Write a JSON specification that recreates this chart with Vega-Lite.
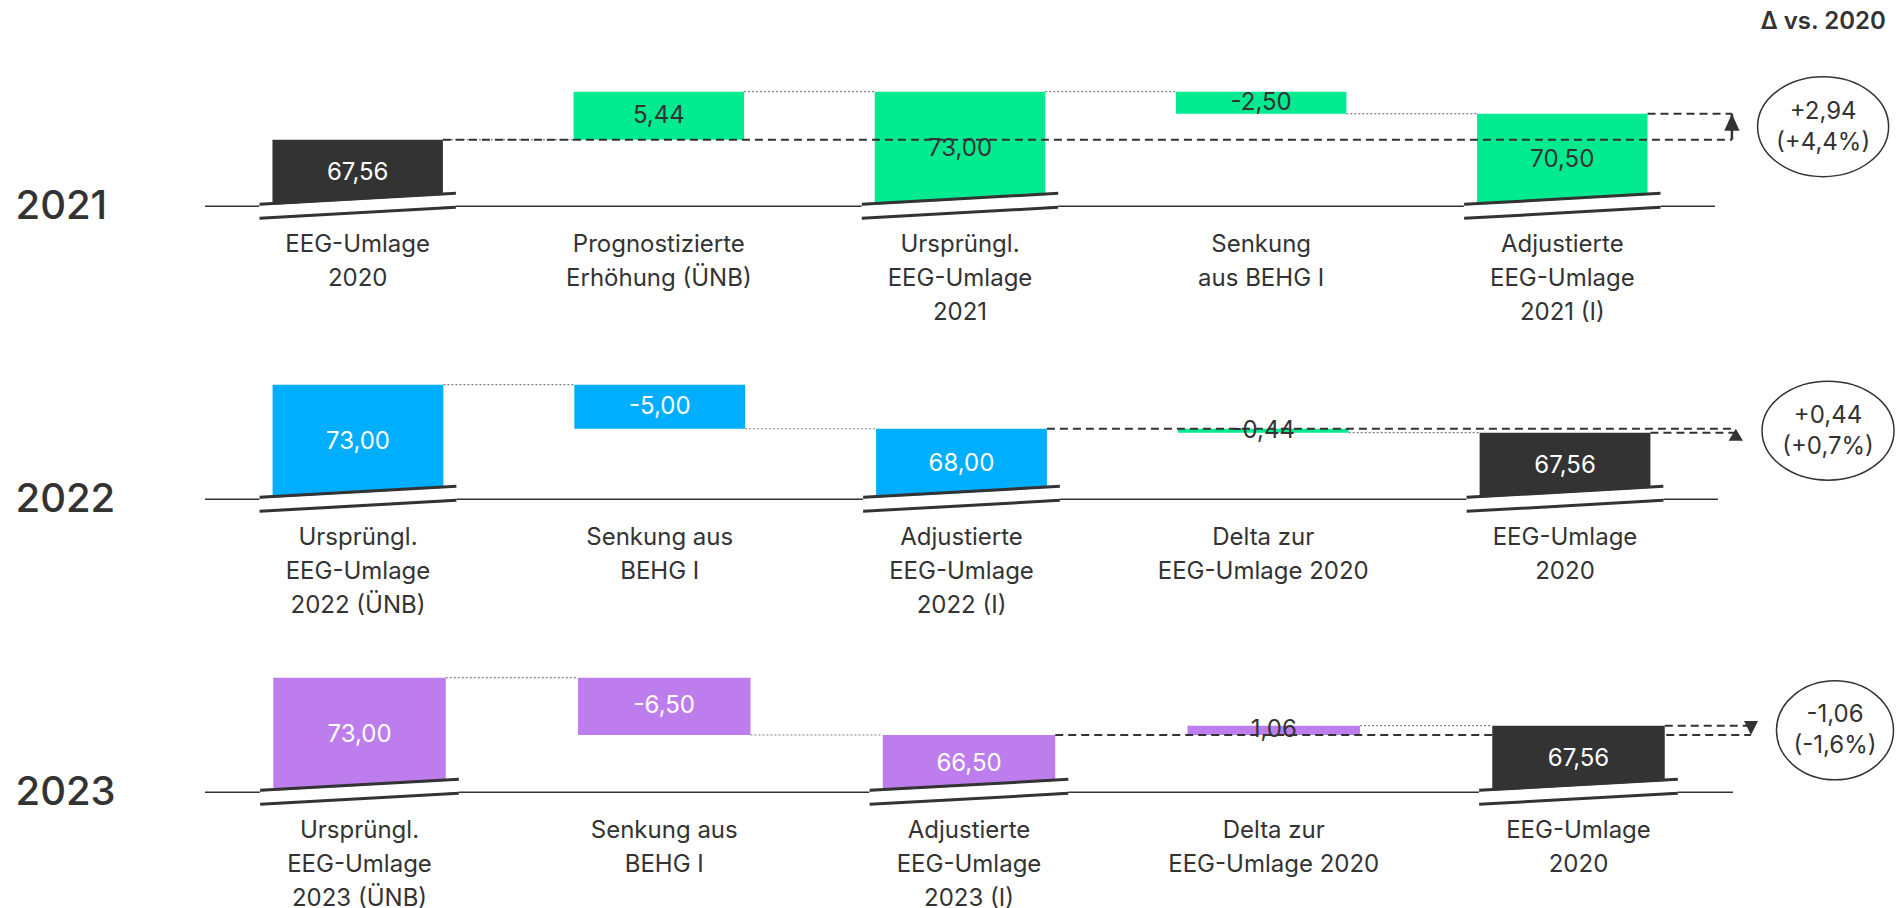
{
  "$schema": "https://vega.github.io/schema/vega-lite/v6.json",
  "padding": {"left": 15, "top": 9, "right": 5, "bottom": 3},
  "bounds": "flush",
  "spacing": 143,
  "resolve": {"scale": {"x": "independent", "y": "independent"}},
  "config": {"view": {"stroke": null}, "font": "Inter", "text": {"font": "Inter"}},
  "datasets": {
    "bars2021": [
      {"cat": "EEG-Umlage|2020", "start": 60, "end": 67.56, "kind": "total", "series": "base", "label": "67,56", "tc": "light"},
      {"cat": "Prognostizierte|Erhöhung (ÜNB)", "start": 67.56, "end": 73, "kind": "delta", "series": "green", "label": "5,44", "tc": "dark"},
      {"cat": "Ursprüngl.|EEG-Umlage|2021", "start": 60, "end": 73, "kind": "total", "series": "green", "label": "73,00", "tc": "dark"},
      {"cat": "Senkung|aus BEHG I", "start": 70.5, "end": 73, "kind": "delta", "series": "green", "label": "-2,50", "tc": "dark"},
      {"cat": "Adjustierte|EEG-Umlage|2021 (I)", "start": 60, "end": 70.5, "kind": "total", "series": "green", "label": "70,50", "tc": "dark"}
    ],
    "conn2021": [
      {"a": "EEG-Umlage|2020", "b": "Prognostizierte|Erhöhung (ÜNB)", "v": 67.56},
      {"a": "Prognostizierte|Erhöhung (ÜNB)", "b": "Ursprüngl.|EEG-Umlage|2021", "v": 73},
      {"a": "Ursprüngl.|EEG-Umlage|2021", "b": "Senkung|aus BEHG I", "v": 73},
      {"a": "Senkung|aus BEHG I", "b": "Adjustierte|EEG-Umlage|2021 (I)", "v": 70.5}
    ],
    "dash2021": [
      {"a": "EEG-Umlage|2020", "b": "Adjustierte|EEG-Umlage|2021 (I)", "v": 67.56},
      {"a": "Adjustierte|EEG-Umlage|2021 (I)", "b": "Adjustierte|EEG-Umlage|2021 (I)", "v": 70.5}
    ],
    "ann2021": [
      {"a": "Adjustierte|EEG-Umlage|2021 (I)", "from": 67.56, "to": 70.5, "txt": "+2,94|(+4,4%)"}
    ],
    "bars2022": [
      {"cat": "Ursprüngl.|EEG-Umlage|2022 (ÜNB)", "start": 60, "end": 73, "kind": "total", "series": "blue", "label": "73,00", "tc": "light"},
      {"cat": "Senkung aus|BEHG I", "start": 68, "end": 73, "kind": "delta", "series": "blue", "label": "-5,00", "tc": "light"},
      {"cat": "Adjustierte|EEG-Umlage|2022 (I)", "start": 60, "end": 68, "kind": "total", "series": "blue", "label": "68,00", "tc": "light"},
      {"cat": "Delta zur|EEG-Umlage 2020", "start": 67.56, "end": 68, "kind": "delta", "series": "green", "label": "-0,44", "tc": "dark"},
      {"cat": "EEG-Umlage|2020", "start": 60, "end": 67.56, "kind": "total", "series": "base", "label": "67,56", "tc": "light"}
    ],
    "conn2022": [
      {"a": "Ursprüngl.|EEG-Umlage|2022 (ÜNB)", "b": "Senkung aus|BEHG I", "v": 73},
      {"a": "Senkung aus|BEHG I", "b": "Adjustierte|EEG-Umlage|2022 (I)", "v": 68},
      {"a": "Delta zur|EEG-Umlage 2020", "b": "EEG-Umlage|2020", "v": 67.56}
    ],
    "dash2022": [
      {"a": "Adjustierte|EEG-Umlage|2022 (I)", "b": "EEG-Umlage|2020", "v": 68},
      {"a": "EEG-Umlage|2020", "b": "EEG-Umlage|2020", "v": 67.56}
    ],
    "ann2022": [
      {"a": "EEG-Umlage|2020", "from": 67.56, "to": 68, "txt": "+0,44|(+0,7%)"}
    ],
    "bars2023": [
      {"cat": "Ursprüngl.|EEG-Umlage|2023 (ÜNB)", "start": 60, "end": 73, "kind": "total", "series": "purple", "label": "73,00", "tc": "light"},
      {"cat": "Senkung aus|BEHG I", "start": 66.5, "end": 73, "kind": "delta", "series": "purple", "label": "-6,50", "tc": "light"},
      {"cat": "Adjustierte|EEG-Umlage|2023 (I)", "start": 60, "end": 66.5, "kind": "total", "series": "purple", "label": "66,50", "tc": "light"},
      {"cat": "Delta zur|EEG-Umlage 2020", "start": 66.5, "end": 67.56, "kind": "delta", "series": "purple", "label": "1,06", "tc": "dark"},
      {"cat": "EEG-Umlage|2020", "start": 60, "end": 67.56, "kind": "total", "series": "base", "label": "67,56", "tc": "light"}
    ],
    "conn2023": [
      {"a": "Ursprüngl.|EEG-Umlage|2023 (ÜNB)", "b": "Senkung aus|BEHG I", "v": 73},
      {"a": "Senkung aus|BEHG I", "b": "Adjustierte|EEG-Umlage|2023 (I)", "v": 66.5},
      {"a": "Delta zur|EEG-Umlage 2020", "b": "EEG-Umlage|2020", "v": 67.56}
    ],
    "dash2023": [
      {"a": "Adjustierte|EEG-Umlage|2023 (I)", "b": "EEG-Umlage|2020", "v": 66.5},
      {"a": "EEG-Umlage|2020", "b": "EEG-Umlage|2020", "v": 67.56}
    ],
    "ann2023": [
      {"a": "EEG-Umlage|2020", "from": 67.56, "to": 66.5, "txt": "-1,06|(-1,6%)"}
    ]
  },
  "vconcat": [
    {
      "width": 1510, "height": 150,
      "data": {"name": "bars2021"},
      "layer": [
        {"data": {"values": [{"v": 60}]}, "mark": {"type": "rule", "color": "#333333", "strokeWidth": 1.5},
         "encoding": {"y": {"field": "v", "type": "quantitative", "scale": {"domain": [58, 75], "nice": false, "zero": false}}}},
        {"mark": {"type": "bar"},
         "encoding": {
           "x": {"field": "cat", "type": "nominal", "scale": {"domain": ["EEG-Umlage|2020", "Prognostizierte|Erhöhung (ÜNB)", "Ursprüngl.|EEG-Umlage|2021", "Senkung|aus BEHG I", "Adjustierte|EEG-Umlage|2021 (I)"], "paddingInner": 0.434, "paddingOuter": 0.224},
                 "axis": {"title": null, "domain": false, "ticks": false, "tickSize": 0, "grid": false, "labelExpr": "split(datum.label, '|')", "labelAngle": 0, "labelFontSize": 24, "labelLineHeight": 34, "labelColor": "#333333", "labelPadding": 8, "labelLimit": 400, "labelOverlap": false}},
           "y": {"field": "start", "type": "quantitative", "scale": {"domain": [58, 75], "nice": false, "zero": false},
                 "axis": {"title": "2021", "titleAngle": 0, "titleFontSize": 40, "titleFontWeight": 500, "titleColor": "#333333", "titleX": -190, "titleY": 132.35, "titleAlign": "left", "titleBaseline": "middle", "labels": false, "ticks": false, "domain": false, "grid": false}},
           "y2": {"field": "end"},
           "color": {"field": "series", "type": "nominal", "scale": {"domain": ["base", "green", "blue", "purple"], "range": ["#333333", "#00EA90", "#00AEFF", "#BE7DED"]}, "legend": null}
         }},
        {"transform": [{"filter": "datum.kind === 'total'"}], "mark": {"type": "rule", "color": "#ffffff", "strokeWidth": 12, "strokeCap": "butt"},
         "encoding": {"x": {"field": "cat", "type": "nominal", "bandPosition": -0.076, "title": null}, "x2": {"field": "cat", "bandPosition": 1.076}, "y": {"datum": 59.43}, "y2": {"datum": 60.68}}},
        {"transform": [{"filter": "datum.kind === 'total'"}], "mark": {"type": "rule", "color": "#333333", "strokeWidth": 3},
         "encoding": {"x": {"field": "cat", "type": "nominal", "bandPosition": -0.076, "title": null}, "x2": {"field": "cat", "bandPosition": 1.076}, "y": {"datum": 60.227}, "y2": {"datum": 61.474}}},
        {"transform": [{"filter": "datum.kind === 'total'"}], "mark": {"type": "rule", "color": "#333333", "strokeWidth": 3},
         "encoding": {"x": {"field": "cat", "type": "nominal", "bandPosition": -0.076, "title": null}, "x2": {"field": "cat", "bandPosition": 1.076}, "y": {"datum": 58.64}, "y2": {"datum": 59.887}}},
        {"data": {"name": "conn2021"}, "mark": {"type": "rule", "color": "#808080", "strokeWidth": 1.2, "strokeDash": [2, 2]},
         "encoding": {"x": {"field": "a", "type": "nominal", "bandPosition": 1, "title": null}, "x2": {"field": "b", "bandPosition": 0}, "y": {"field": "v", "type": "quantitative"}}},
        {"data": {"name": "dash2021"}, "mark": {"type": "rule", "color": "#333333", "strokeWidth": 2, "strokeDash": [8, 5]},
         "encoding": {"x": {"field": "a", "type": "nominal", "bandPosition": 1, "title": null}, "x2": {"field": "b", "bandPosition": 1.495}, "y": {"field": "v", "type": "quantitative"}}},
        {"transform": [{"fold": ["start", "end"], "as": ["k", "val"]}, {"aggregate": [{"op": "mean", "field": "val", "as": "mid"}], "groupby": ["cat", "label", "tc"]}],
         "mark": {"type": "text", "fontSize": 24, "baseline": "middle", "align": "center"},
         "encoding": {"x": {"field": "cat", "type": "nominal", "title": null}, "y": {"field": "mid", "type": "quantitative"}, "text": {"field": "label"},
                      "color": {"condition": {"test": "datum.tc === 'light'", "value": "#ffffff"}, "value": "#333333"}}},
        {"data": {"name": "ann2021"}, "mark": {"type": "rule", "color": "#333333", "strokeWidth": 2.5},
         "encoding": {"x": {"field": "a", "type": "nominal", "bandPosition": 1.495, "title": null}, "y": {"field": "from", "type": "quantitative"}, "y2": {"field": "to"}}},
        {"data": {"name": "ann2021"}, "mark": {"type": "point", "shape": "M0,0L0.45,1L-0.45,1Z", "filled": true, "color": "#333333", "opacity": 1, "size": 1156, "strokeWidth": 0},
         "encoding": {"x": {"field": "a", "type": "nominal", "bandPosition": 1.495, "title": null}, "y": {"field": "to", "type": "quantitative"}}},
        {"data": {"name": "ann2021"}, "transform": [{"fold": ["from", "to"], "as": ["k", "val"]}, {"aggregate": [{"op": "mean", "field": "val", "as": "mid"}], "groupby": ["a", "txt"]}],
         "mark": {"type": "point", "shape": "M1,0C1,0.4215,0.5523,0.763,0,0.763C-0.5523,0.763,-1,0.4215,-1,0C-1,-0.4215,-0.5523,-0.763,0,-0.763C0.5523,-0.763,1,-0.4215,1,0Z", "filled": false, "stroke": "#333333", "strokeWidth": 1.5, "size": 17161, "opacity": 1},
         "encoding": {"x": {"field": "a", "type": "nominal", "bandPosition": 2.03, "title": null}, "y": {"field": "mid", "type": "quantitative"}}},
        {"data": {"name": "ann2021"}, "transform": [{"fold": ["from", "to"], "as": ["k", "val"]}, {"aggregate": [{"op": "mean", "field": "val", "as": "mid"}], "groupby": ["a", "txt"]}],
         "mark": {"type": "text", "fontSize": 24, "lineBreak": "|", "lineHeight": 31, "baseline": "middle", "align": "center", "dy": -15, "color": "#333333"},
         "encoding": {"x": {"field": "a", "type": "nominal", "bandPosition": 2.03, "title": null}, "y": {"field": "mid", "type": "quantitative"}, "text": {"field": "txt"}}},
        {"data": {"values": [{"a": "Adjustierte|EEG-Umlage|2021 (I)", "t": "Δ vs. 2020", "v": 80.9}]},
         "mark": {"type": "text", "fontSize": 24, "fontWeight": 600, "baseline": "middle", "align": "center", "color": "#333333"},
         "encoding": {"x": {"field": "a", "type": "nominal", "bandPosition": 2.03, "title": null}, "y": {"field": "v", "type": "quantitative", "scale": {"domain": [58, 75], "nice": false, "zero": false}}, "text": {"field": "t"}}}
      ]
    },
    {
      "width": 1513, "height": 150,
      "data": {"name": "bars2022"},
      "layer": [
        {"data": {"values": [{"v": 60}]}, "mark": {"type": "rule", "color": "#333333", "strokeWidth": 1.5},
         "encoding": {"y": {"field": "v", "type": "quantitative", "scale": {"domain": [58, 75], "nice": false, "zero": false}}}},
        {"mark": {"type": "bar"},
         "encoding": {
           "x": {"field": "cat", "type": "nominal", "scale": {"domain": ["Ursprüngl.|EEG-Umlage|2022 (ÜNB)", "Senkung aus|BEHG I", "Adjustierte|EEG-Umlage|2022 (I)", "Delta zur|EEG-Umlage 2020", "EEG-Umlage|2020"], "paddingInner": 0.434, "paddingOuter": 0.224},
                 "axis": {"title": null, "domain": false, "ticks": false, "tickSize": 0, "grid": false, "labelExpr": "split(datum.label, '|')", "labelAngle": 0, "labelFontSize": 24, "labelLineHeight": 34, "labelColor": "#333333", "labelPadding": 8, "labelLimit": 400, "labelOverlap": false}},
           "y": {"field": "start", "type": "quantitative", "scale": {"domain": [58, 75], "nice": false, "zero": false},
                 "axis": {"title": "2022", "titleAngle": 0, "titleFontSize": 40, "titleFontWeight": 500, "titleColor": "#333333", "titleX": -190, "titleY": 132.35, "titleAlign": "left", "titleBaseline": "middle", "labels": false, "ticks": false, "domain": false, "grid": false}},
           "y2": {"field": "end"},
           "color": {"field": "series", "type": "nominal", "scale": {"domain": ["base", "green", "blue", "purple"], "range": ["#333333", "#00EA90", "#00AEFF", "#BE7DED"]}, "legend": null}
         }},
        {"transform": [{"filter": "datum.kind === 'total'"}], "mark": {"type": "rule", "color": "#ffffff", "strokeWidth": 12, "strokeCap": "butt"},
         "encoding": {"x": {"field": "cat", "type": "nominal", "bandPosition": -0.076, "title": null}, "x2": {"field": "cat", "bandPosition": 1.076}, "y": {"datum": 59.43}, "y2": {"datum": 60.68}}},
        {"transform": [{"filter": "datum.kind === 'total'"}], "mark": {"type": "rule", "color": "#333333", "strokeWidth": 3},
         "encoding": {"x": {"field": "cat", "type": "nominal", "bandPosition": -0.076, "title": null}, "x2": {"field": "cat", "bandPosition": 1.076}, "y": {"datum": 60.227}, "y2": {"datum": 61.474}}},
        {"transform": [{"filter": "datum.kind === 'total'"}], "mark": {"type": "rule", "color": "#333333", "strokeWidth": 3},
         "encoding": {"x": {"field": "cat", "type": "nominal", "bandPosition": -0.076, "title": null}, "x2": {"field": "cat", "bandPosition": 1.076}, "y": {"datum": 58.64}, "y2": {"datum": 59.887}}},
        {"data": {"name": "conn2022"}, "mark": {"type": "rule", "color": "#808080", "strokeWidth": 1.2, "strokeDash": [2, 2]},
         "encoding": {"x": {"field": "a", "type": "nominal", "bandPosition": 1, "title": null}, "x2": {"field": "b", "bandPosition": 0}, "y": {"field": "v", "type": "quantitative"}}},
        {"data": {"name": "dash2022"}, "mark": {"type": "rule", "color": "#333333", "strokeWidth": 2, "strokeDash": [8, 5]},
         "encoding": {"x": {"field": "a", "type": "nominal", "bandPosition": 1, "title": null}, "x2": {"field": "b", "bandPosition": 1.5}, "y": {"field": "v", "type": "quantitative"}}},
        {"transform": [{"fold": ["start", "end"], "as": ["k", "val"]}, {"aggregate": [{"op": "mean", "field": "val", "as": "mid"}], "groupby": ["cat", "label", "tc"]}],
         "mark": {"type": "text", "fontSize": 24, "baseline": "middle", "align": "center"},
         "encoding": {"x": {"field": "cat", "type": "nominal", "title": null}, "y": {"field": "mid", "type": "quantitative"}, "text": {"field": "label"},
                      "color": {"condition": {"test": "datum.tc === 'light'", "value": "#ffffff"}, "value": "#333333"}}},
        {"data": {"name": "ann2022"}, "mark": {"type": "point", "shape": "M0,0L0.6,1L-0.6,1Z", "filled": true, "color": "#333333", "opacity": 1, "size": 576, "strokeWidth": 0},
         "encoding": {"x": {"field": "a", "type": "nominal", "bandPosition": 1.5, "title": null}, "y": {"field": "to", "type": "quantitative"}}},
        {"data": {"name": "ann2022"}, "transform": [{"fold": ["from", "to"], "as": ["k", "val"]}, {"aggregate": [{"op": "mean", "field": "val", "as": "mid"}], "groupby": ["a", "txt"]}],
         "mark": {"type": "point", "shape": "M1,0C1,0.4142,0.5523,0.75,0,0.75C-0.5523,0.75,-1,0.4142,-1,0C-1,-0.4142,-0.5523,-0.75,0,-0.75C0.5523,-0.75,1,-0.4142,1,0Z", "filled": false, "stroke": "#333333", "strokeWidth": 1.5, "size": 17424, "opacity": 1},
         "encoding": {"x": {"field": "a", "type": "nominal", "bandPosition": 2.04, "title": null}, "y": {"field": "mid", "type": "quantitative"}}},
        {"data": {"name": "ann2022"}, "transform": [{"fold": ["from", "to"], "as": ["k", "val"]}, {"aggregate": [{"op": "mean", "field": "val", "as": "mid"}], "groupby": ["a", "txt"]}],
         "mark": {"type": "text", "fontSize": 24, "lineBreak": "|", "lineHeight": 31, "baseline": "middle", "align": "center", "dy": -15, "color": "#333333"},
         "encoding": {"x": {"field": "a", "type": "nominal", "bandPosition": 2.04, "title": null}, "y": {"field": "mid", "type": "quantitative"}, "text": {"field": "txt"}}}
      ]
    },
    {
      "width": 1528, "height": 150,
      "data": {"name": "bars2023"},
      "layer": [
        {"data": {"values": [{"v": 60}]}, "mark": {"type": "rule", "color": "#333333", "strokeWidth": 1.5},
         "encoding": {"y": {"field": "v", "type": "quantitative", "scale": {"domain": [58, 75], "nice": false, "zero": false}}}},
        {"mark": {"type": "bar"},
         "encoding": {
           "x": {"field": "cat", "type": "nominal", "scale": {"domain": ["Ursprüngl.|EEG-Umlage|2023 (ÜNB)", "Senkung aus|BEHG I", "Adjustierte|EEG-Umlage|2023 (I)", "Delta zur|EEG-Umlage 2020", "EEG-Umlage|2020"], "paddingInner": 0.434, "paddingOuter": 0.224},
                 "axis": {"title": null, "domain": false, "ticks": false, "tickSize": 0, "grid": false, "labelExpr": "split(datum.label, '|')", "labelAngle": 0, "labelFontSize": 24, "labelLineHeight": 34, "labelColor": "#333333", "labelPadding": 8, "labelLimit": 400, "labelOverlap": false}},
           "y": {"field": "start", "type": "quantitative", "scale": {"domain": [58, 75], "nice": false, "zero": false},
                 "axis": {"title": "2023", "titleAngle": 0, "titleFontSize": 40, "titleFontWeight": 500, "titleColor": "#333333", "titleX": -190, "titleY": 132.35, "titleAlign": "left", "titleBaseline": "middle", "labels": false, "ticks": false, "domain": false, "grid": false}},
           "y2": {"field": "end"},
           "color": {"field": "series", "type": "nominal", "scale": {"domain": ["base", "green", "blue", "purple"], "range": ["#333333", "#00EA90", "#00AEFF", "#BE7DED"]}, "legend": null}
         }},
        {"transform": [{"filter": "datum.kind === 'total'"}], "mark": {"type": "rule", "color": "#ffffff", "strokeWidth": 12, "strokeCap": "butt"},
         "encoding": {"x": {"field": "cat", "type": "nominal", "bandPosition": -0.076, "title": null}, "x2": {"field": "cat", "bandPosition": 1.076}, "y": {"datum": 59.43}, "y2": {"datum": 60.68}}},
        {"transform": [{"filter": "datum.kind === 'total'"}], "mark": {"type": "rule", "color": "#333333", "strokeWidth": 3},
         "encoding": {"x": {"field": "cat", "type": "nominal", "bandPosition": -0.076, "title": null}, "x2": {"field": "cat", "bandPosition": 1.076}, "y": {"datum": 60.227}, "y2": {"datum": 61.474}}},
        {"transform": [{"filter": "datum.kind === 'total'"}], "mark": {"type": "rule", "color": "#333333", "strokeWidth": 3},
         "encoding": {"x": {"field": "cat", "type": "nominal", "bandPosition": -0.076, "title": null}, "x2": {"field": "cat", "bandPosition": 1.076}, "y": {"datum": 58.64}, "y2": {"datum": 59.887}}},
        {"data": {"name": "conn2023"}, "mark": {"type": "rule", "color": "#808080", "strokeWidth": 1.2, "strokeDash": [2, 2]},
         "encoding": {"x": {"field": "a", "type": "nominal", "bandPosition": 1, "title": null}, "x2": {"field": "b", "bandPosition": 0}, "y": {"field": "v", "type": "quantitative"}}},
        {"data": {"name": "dash2023"}, "mark": {"type": "rule", "color": "#333333", "strokeWidth": 2, "strokeDash": [8, 5]},
         "encoding": {"x": {"field": "a", "type": "nominal", "bandPosition": 1, "title": null}, "x2": {"field": "b", "bandPosition": 1.5}, "y": {"field": "v", "type": "quantitative"}}},
        {"transform": [{"fold": ["start", "end"], "as": ["k", "val"]}, {"aggregate": [{"op": "mean", "field": "val", "as": "mid"}], "groupby": ["cat", "label", "tc"]}],
         "mark": {"type": "text", "fontSize": 24, "baseline": "middle", "align": "center"},
         "encoding": {"x": {"field": "cat", "type": "nominal", "title": null}, "y": {"field": "mid", "type": "quantitative"}, "text": {"field": "label"},
                      "color": {"condition": {"test": "datum.tc === 'light'", "value": "#ffffff"}, "value": "#333333"}}},
        {"data": {"name": "ann2023"}, "mark": {"type": "point", "shape": "M0,0L0.5,-1L-0.5,-1Z", "filled": true, "color": "#333333", "opacity": 1, "size": 784, "strokeWidth": 0},
         "encoding": {"x": {"field": "a", "type": "nominal", "bandPosition": 1.5, "title": null}, "y": {"field": "to", "type": "quantitative"}}},
        {"data": {"name": "ann2023"}, "transform": [{"fold": ["from", "to"], "as": ["k", "val"]}, {"aggregate": [{"op": "mean", "field": "val", "as": "mid"}], "groupby": ["a", "txt"]}],
         "mark": {"type": "point", "shape": "M1,0C1,0.4673,0.5523,0.846,0,0.846C-0.5523,0.846,-1,0.4673,-1,0C-1,-0.4673,-0.5523,-0.846,0,-0.846C0.5523,-0.846,1,-0.4673,1,0Z", "filled": false, "stroke": "#333333", "strokeWidth": 1.5, "size": 13689, "opacity": 1},
         "encoding": {"x": {"field": "a", "type": "nominal", "bandPosition": 1.987, "title": null}, "y": {"field": "mid", "type": "quantitative"}}},
        {"data": {"name": "ann2023"}, "transform": [{"fold": ["from", "to"], "as": ["k", "val"]}, {"aggregate": [{"op": "mean", "field": "val", "as": "mid"}], "groupby": ["a", "txt"]}],
         "mark": {"type": "text", "fontSize": 24, "lineBreak": "|", "lineHeight": 31, "baseline": "middle", "align": "center", "dy": -15, "color": "#333333"},
         "encoding": {"x": {"field": "a", "type": "nominal", "bandPosition": 1.987, "title": null}, "y": {"field": "mid", "type": "quantitative"}, "text": {"field": "txt"}}}
      ]
    }
  ]
}
